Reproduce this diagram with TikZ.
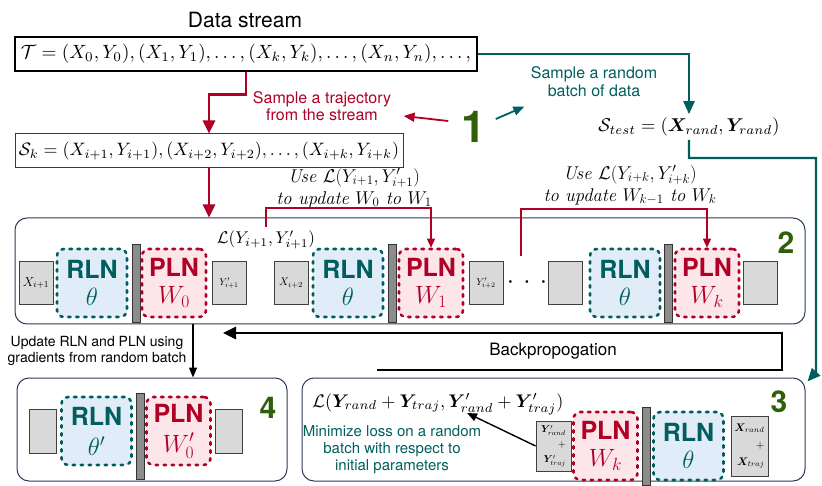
\RequirePackage{fix-cm}
\documentclass[tikz,border=0pt]{standalone}
\usepackage{bm}
\usepackage{graphicx}
\usepackage[no-math]{fontspec}
\setsansfont{TeX Gyre Heros}
\usetikzlibrary{positioning,arrows.meta}

\definecolor{tealc}{RGB}{0,94,94}
\definecolor{redc}{RGB}{176,0,38}
\definecolor{greenc}{RGB}{45,96,8}
\definecolor{rlnfill}{RGB}{225,236,249}
\definecolor{plnfill}{RGB}{252,230,234}
\definecolor{panelc}{RGB}{46,58,89}

% formula squeezed to a given width
\newcommand{\fitmath}[2]{\resizebox{#1}{!}{$#2$}}

\tikzset{
	panel/.style={draw=panelc, line width=1pt, rounded corners=12pt},
	netbox/.style={rounded corners=7pt, line width=2.6pt, dash pattern=on 2.5pt off 5.5pt,
		line cap=round, minimum height=68pt, inner sep=0pt, align=center,
		font=\sffamily\fontsize{25}{27}\selectfont},
	rln/.style={netbox, draw=tealc, fill=rlnfill, text=tealc, minimum width=70pt},
	pln/.style={netbox, draw=redc, fill=plnfill, text=redc, minimum width=64pt},
	io/.style={draw=black!75, fill=black!15, line width=0.8pt, inner sep=0pt,
		minimum width=34pt, minimum height=43pt},
	sep/.style={draw=black!80, fill=black!45, line width=0.8pt, inner sep=0pt,
		minimum width=8pt, minimum height=78pt},
	stepnum/.style={text=greenc, font=\sffamily\bfseries\fontsize{30}{30}\selectfont},
	redarrow/.style={draw=redc, line width=2.6pt, -{Triangle[length=13pt,width=12pt]}},
	thinred/.style={draw=redc, line width=1.4pt, -{Triangle[length=9pt,width=8pt]}},
	tealarrow/.style={draw=tealc, line width=2.4pt, -{Triangle[length=13pt,width=11pt]}},
}

\begin{document}
\begin{tikzpicture}[x=1pt,y=-1pt,node distance=40pt,on grid]
\useasboundingbox (0,0) rectangle (822,486);

% Data stream
\node[font=\sffamily\fontsize{21}{21}\selectfont] (title) at (245,20) {Data stream};
\node[draw, line width=2.5pt,
	minimum width=462pt,
	minimum height=34pt,
	inner sep=2pt] (stream) at (246,54)
	{\fitmath{450pt}{\mathcal{T}=(X_0,Y_0),(X_1,Y_1),\dots,(X_k,Y_k),\dots,(X_n,Y_n),\dots,}};

\node[draw=redc, line width=1pt,
	minimum width=388pt,
	minimum height=34pt,
	inner sep=2pt] (traj) at (209,151)
	{\fitmath{380pt}{\mathcal{S}_k=(X_{i+1},Y_{i+1}),(X_{i+2},Y_{i+2}),\dots,(X_{i+k},Y_{i+k})}};

\node[text=redc, align=center,
	font=\sffamily\fontsize{16}{17}\selectfont] (samptraj) at (322,106)
	{Sample a trajectory\\from the stream};

\node[text=tealc, align=center,
	font=\sffamily\fontsize{16}{18}\selectfont] (sampbatch) at (594,82)
	{Sample a random\\batch of data};

\node[stepnum, font=\sffamily\bfseries\fontsize{44}{44}\selectfont] (one) at (474,127) {1};

\node (stest) at (689,127)
	{\fitmath{181pt}{\mathcal{S}_{test}=(\bm{X}_{rand},\bm{Y}_{rand})}};

\draw[redarrow] (stream.south) -- ++(0,22) -| (traj.north);
\draw[redarrow, line width=1.8pt, -{Triangle[length=11pt,width=9pt]}]
	([xshift=-10pt,yshift=6pt]one.west) -- ([xshift=9pt,yshift=-10pt]samptraj.east);
\draw[tealarrow, line width=1.8pt, -{Triangle[length=11pt,width=9pt]}]
	([xshift=6pt,yshift=8pt]one.east) -- ([xshift=-3pt,yshift=-6pt]sampbatch.south west);
\draw[tealarrow] (stream.east) -| (stest.north);

%%%%%%%%%%%%%%%%%%%
% Inner loop over the trajectory

\node[panel, minimum width=790pt, minimum height=106pt] (panel2) at (410,271) {};
\node[stepnum] (two) at (786,243) {2};

\node[io] (x1) at (36,283) {\fontsize{13}{13}\selectfont$X_{i+1}$};
\node[rln, right=56pt of x1] (rln1) {\bfseries RLN\\$\theta$};
\node[sep, right=44pt of rln1] (bar1) {};
\node[pln, right=38pt of bar1] (pln1) {\bfseries PLN\\$W_0$};
\node[io, right=55pt of pln1] (y1) {\fontsize{10}{10}\selectfont$Y'_{i+1}$};

\node[io, right=62pt of y1] (x2) {\fontsize{11}{11}\selectfont$X_{i+2}$};
\node[rln, right=57pt of x2] (rln2) {\bfseries RLN\\$\theta$};
\node[sep, right=44pt of rln2] (bar2) {};
\node[pln, right=39pt of bar2] (pln2) {\bfseries PLN\\$W_1$};
\node[io, right=55pt of pln2] (y2) {\fontsize{10}{10}\selectfont$Y'_{i+2}$};

\node[right=41pt of y2, inner sep=0pt, font=\fontsize{26}{26}\selectfont] (dots)
	{${\cdot}\hspace{9.3pt}{\cdot}\hspace{9.3pt}{\cdot}$};

\node[io, right=79pt of y2] (xk) {};
\node[rln, right=60pt of xk] (rlnk) {\bfseries RLN\\$\theta$};
\node[sep, right=43pt of rlnk] (bark) {};
\node[pln, right=39pt of bark] (plnk) {\bfseries PLN\\$W_k$};
\node[io, right=53pt of plnk] (yk) {};

\node (loss1) at (266,240) {\fitmath{98pt}{\mathcal{L}(Y_{i+1},Y'_{i+1})}};
\coordinate (lossk) at (521,256);

\node[align=center, font=\itshape\fontsize{18.5}{22}\selectfont] (use1) at (354,188)
	{Use $\mathcal{L}(Y_{i+1},Y'_{i+1})$\\to update $W_0$ to $W_1$};
\node[align=center, font=\itshape\fontsize{18.5}{22}\selectfont] (usek) at (630,185)
	{Use $\mathcal{L}(Y_{i+k},Y'_{i+k})$\\to update $W_{k-1}$ to $W_k$};

\draw[redarrow] (traj.south) -- (traj.south |- panel2.north);
\draw[thinred] (loss1.north) -- ++(0,-19) -| (pln2.north);
\draw[thinred] (lossk) -- ++(0,-47) -| (plnk.north);

%%%%%%%%%%%%%%%%%%%
% Outer loss on a random batch

\node[panel, minimum width=503pt, minimum height=103pt] (panel3) at (553.5,429.5) {};
\node[stepnum] (three) at (779,402) {3};

\node[io, minimum width=35pt, minimum height=50pt, align=right,
	font=\fontsize{10}{15}\selectfont] (yout) at (553.5,446)
	{$\bm{Y}'_{rand}$\\$+$\\$\bm{Y}'_{traj}$};
\node[pln, right=52pt of yout] (pln3) {\bfseries PLN\\$W_k$};
\node[sep, right=40.5pt of pln3] (bar3) {};
\node[rln, right=42.5pt of bar3] (rln3) {\bfseries RLN\\$\theta$};
\node[io, right=61pt of rln3, minimum width=37pt, minimum height=60pt, align=right,
	font=\fontsize{11}{17}\selectfont] (xin)
	{$\bm{X}_{rand}$\\$+$\\$\bm{X}_{traj}$};

\node (lossr) at (438,404)
	{\fitmath{251pt}{\mathcal{L}(\bm{Y}_{rand}+\bm{Y}_{traj},\bm{Y}'_{rand}+\bm{Y}'_{traj})}};
\node[text=tealc, align=center,
	font=\sffamily\fontsize{15}{17}\selectfont] (minimize) at (392,450)
	{Minimize loss on a random\\batch with respect to\\initial parameters};
\coordinate (losstip) at (467,413);

\draw[-{Triangle[length=10pt,width=8pt]}, line width=1.4pt] (yout.west) -- (losstip);

\coordinate (tealturn) at (816,158);
\draw[tealarrow] (stest.south) |- (tealturn) -- ++(0,214) -- ([xshift=2pt,yshift=-4pt]panel3.north east);

%%%%%%%%%%%%%%%%%%%
% Backpropagation and update

\node[font=\sffamily\fontsize{17}{17}\selectfont] (backprop) at (553,351) {Backpropogation};
\coordinate (bpstart) at (377,370);
\coordinate (bpend) at (223,333);
\draw[line width=2.8pt, -{Triangle[length=13pt,width=12pt]}] (bpstart) -- ++(405,0) |- (bpend);

\node[panel, minimum width=270pt, minimum height=103pt] (panel4) at (152,429.5) {};
\node[stepnum] (four) at (268,408) {4};

\node[io, minimum width=27pt, minimum height=44pt] (io4a) at (42.5,431) {};
\node[rln, right=54pt of io4a] (rln4) {\bfseries RLN\\[3pt]$\theta'$};
\node[sep, right=43.5pt of rln4, minimum height=86pt, yshift=-5pt] (bar4) {};
\node[pln, right=82pt of rln4] (pln4) {\bfseries PLN\\[3pt]$W'_0$};
\node[io, right=50pt of pln4, minimum width=27pt, minimum height=44pt] (io4b) {};

\node[align=center, font=\sffamily\fontsize{14}{16}\selectfont] (updtxt) at (97,351)
	{Update RLN and PLN using\\gradients from random batch};
\coordinate (upd) at (193,324);
\draw[line width=1.4pt, -{Triangle[length=10pt,width=8pt]}] (upd) -- (upd |- panel4.north);

\end{tikzpicture}
\end{document}
